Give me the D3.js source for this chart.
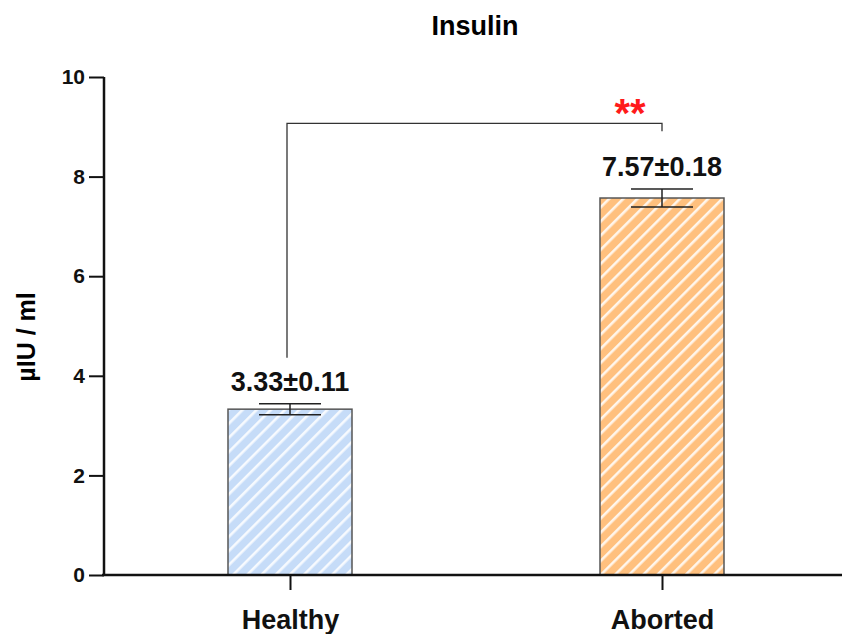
<!DOCTYPE html>
<html>
<head>
<meta charset="utf-8">
<script src="https://cdn.jsdelivr.net/npm/d3@7"></script>
<style>
  html, body { margin: 0; padding: 0; background: #fff; }
  svg { display: block; font-family: Arial, "Liberation Sans", sans-serif; }
</style>
</head>
<body>
<svg id="chart" width="842" height="634"></svg>
<script>
// Insulin levels by group
const categories = ["Healthy", "Aborted"];
const means = [3.33, 7.57];
const sems = [0.11, 0.18];
const fills = ["#c6dcf8", "#ffc07e"];
const yTicks = [0, 2, 4, 6, 8, 10];
const significance = "**";

const svg = d3.select("#chart");
const margin = { left: 104, right: 0, top: 77, bottom: 59 };
const W = 842, H = 634;
const FONT = "Arial, 'Liberation Sans', sans-serif";

const x = d3.scalePoint().domain(categories).range([290, 662]);
const y = d3.scaleLinear().domain([0, 10]).range([575, 77]);
const barW = 124;

// Diagonal hatch patterns
const defs = svg.append("defs");
categories.forEach((c, i) => {
  const p = defs.append("pattern")
    .attr("id", "hatch" + i)
    .attr("patternUnits", "userSpaceOnUse")
    .attr("width", 10).attr("height", 10)
    .attr("patternTransform", "rotate(45)");
  p.append("rect").attr("width", 10).attr("height", 10).attr("fill", fills[i]);
  p.append("rect").attr("x", 0).attr("width", 2.6).attr("height", 10)
    .attr("fill", "#ffffff").attr("opacity", 0.85);
});

// Title
svg.append("text")
  .attr("x", 475).attr("y", 35)
  .attr("text-anchor", "middle")
  .attr("font-size", 27).attr("font-weight", "bold")
  .text("Insulin");

// Bars
svg.selectAll("rect.bar")
  .data(categories)
  .join("rect")
  .attr("class", "bar")
  .attr("x", d => x(d) - barW / 2)
  .attr("y", (d, i) => y(means[i]))
  .attr("width", barW)
  .attr("height", (d, i) => y(0) - y(means[i]))
  .attr("fill", (d, i) => `url(#hatch${i})`)
  .attr("stroke", "#555")
  .attr("stroke-width", 1.5);

// Error bars (mean ± SEM)
const capW = 62;
const eb = svg.selectAll("g.err").data(categories).join("g").attr("class", "err")
  .attr("stroke", "#222").attr("stroke-width", 1.5);
eb.append("line")
  .attr("x1", d => x(d)).attr("x2", d => x(d))
  .attr("y1", (d, i) => y(means[i] + sems[i]))
  .attr("y2", (d, i) => y(means[i] - sems[i]));
eb.append("line")
  .attr("x1", d => x(d) - capW / 2).attr("x2", d => x(d) + capW / 2)
  .attr("y1", (d, i) => y(means[i] + sems[i]))
  .attr("y2", (d, i) => y(means[i] + sems[i]));
eb.append("line")
  .attr("x1", d => x(d) - capW / 2).attr("x2", d => x(d) + capW / 2)
  .attr("y1", (d, i) => y(means[i] - sems[i]))
  .attr("y2", (d, i) => y(means[i] - sems[i]));

// Value labels
svg.selectAll("text.val").data(categories).join("text")
  .attr("class", "val")
  .attr("x", d => x(d))
  .attr("y", (d, i) => y(means[i] + sems[i]) - 13)
  .attr("text-anchor", "middle")
  .attr("font-size", 27).attr("font-weight", "bold")
  .attr("fill", "#111")
  .text((d, i) => `${means[i].toFixed(2)}±${sems[i].toFixed(2)}`);

// Significance bracket
const bTop = y(9.07);
svg.append("path")
  .attr("d", `M${x(categories[0]) - 3},${y(means[0] + sems[0]) - 46} V${bTop} H${x(categories[1])} V${bTop + 8}`)
  .attr("fill", "none").attr("stroke", "#333").attr("stroke-width", 1.3);
svg.append("text")
  .attr("x", x(categories[1]) - 32).attr("y", bTop + 4)
  .attr("text-anchor", "middle")
  .attr("font-size", 40).attr("font-weight", "bold")
  .attr("fill", "#ff1a1a")
  .text(significance);

// Y axis
const yAxis = svg.append("g")
  .attr("transform", `translate(${margin.left},0)`)
  .call(d3.axisLeft(y).tickValues(yTicks).tickSize(15).tickPadding(4).tickFormat(d3.format("d")));
yAxis.select(".domain").attr("stroke", "#111").attr("stroke-width", 2.5).attr("d", `M0,${y(10)}V${y(0)}`);
yAxis.selectAll(".tick line").attr("stroke", "#111").attr("stroke-width", 2);
yAxis.selectAll(".tick text").attr("font-size", 21).attr("font-weight", "bold").attr("fill", "#111")
  .attr("font-family", FONT);

// X axis
const xAxis = svg.append("g")
  .attr("transform", `translate(0,${y(0)})`)
  .call(d3.axisBottom(x).tickSize(15).tickPadding(20));
xAxis.select(".domain").attr("stroke", "#111").attr("stroke-width", 2.5).attr("d", `M${margin.left - 2},0H${W}`);
xAxis.selectAll(".tick line").attr("stroke", "#111").attr("stroke-width", 2);
xAxis.selectAll(".tick text").attr("font-size", 27).attr("font-weight", "bold").attr("fill", "#111")
  .attr("font-family", FONT);

// Y axis title
svg.append("text")
  .attr("transform", "translate(35,337) rotate(-90)")
  .attr("text-anchor", "middle")
  .attr("font-size", 25).attr("font-weight", "bold")
  .text("µIU / ml");
</script>
</body>
</html>
